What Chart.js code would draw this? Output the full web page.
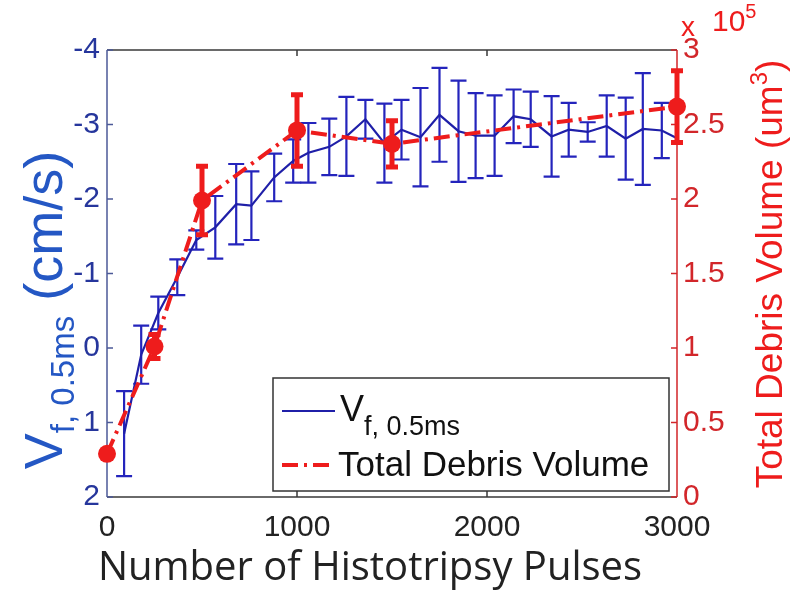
<!DOCTYPE html>
<html>
<head>
<meta charset="utf-8">
<script src="https://cdn.jsdelivr.net/npm/chart.js@4.4.1/dist/chart.umd.min.js"></script>
<style>
  html, body { margin: 0; padding: 0; background: #fff; }
  canvas { display: block; }
</style>
</head>
<body>
<canvas id="c" width="800" height="590"></canvas>
<script>
// --- data ---
const pulseTicks = [0, 1000, 2000, 3000];

// flow velocity V_f,0.5ms (cm/s), left axis (reversed)
const flowPulses = [90, 180, 270, 370, 470, 570, 680, 760, 880, 980, 1060, 1170, 1260, 1360, 1460,
                    1550, 1650, 1750, 1850, 1940, 2040, 2140, 2230, 2340, 2430, 2530, 2630, 2730, 2820, 2920, 3020];
const flowVelocity = [1.15, 0.09, -0.47, -0.95, -1.45, -1.62, -1.93, -1.91, -2.29, -2.51, -2.62, -2.70, -2.84, -3.07, -2.75,
                      -2.93, -2.83, -3.13, -2.91, -2.85, -2.85, -3.11, -3.07, -2.84, -2.93, -2.90, -2.98, -2.81, -2.94, -2.92, -2.79];
const flowError = [0.57, 0.39, 0.22, 0.24, 0.13, 0.42, 0.54, 0.46, 0.32, 0.29, 0.40, 0.38, 0.53, 0.26, 0.53,
                   0.40, 0.66, 0.63, 0.68, 0.57, 0.54, 0.36, 0.37, 0.54, 0.36, 0.13, 0.41, 0.55, 0.75, 0.37, 0];

// total debris volume (um^3), right axis
const debrisPulses = [0, 250, 500, 1000, 1500, 3000];
const debrisVolume = [29000, 101000, 199000, 246000, 237000, 262000];
const debrisError = [0, 8000, 23000, 24000, 15500, 24000];

// --- colours ---
const BLUE = '#1f1fa8';
const BLUE_TICK = '#26369c';
const BLUE_TITLE = '#2457c4';
const RED = '#ee1c1c';
const RED_TICK = '#d2262a';
const DARK = '#222222';
const FONT = '"Liberation Sans", Arial, sans-serif';

// draw a run of text pieces (for sub/superscripts), centred on x,y
function richText(ctx, parts, x, y, angle, color, align) {
  ctx.save();
  ctx.translate(x, y);
  ctx.rotate(angle);
  ctx.fillStyle = color;
  ctx.textBaseline = 'alphabetic';
  ctx.textAlign = 'left';
  let total = 0;
  parts.forEach(p => { ctx.font = p.font; p.w = ctx.measureText(p.text).width; total += p.w; });
  let cx = align === 'left' ? 0 : -total / 2;
  parts.forEach(p => { ctx.font = p.font; ctx.fillText(p.text, cx, p.dy || 0); cx += p.w; });
  ctx.restore();
}

// error bars, drawn just before their own dataset
const errorBars = {
  id: 'errorBars',
  beforeDatasetDraw(chart, args) {
    const ds = chart.data.datasets[args.index];
    if (!ds.errors) return;
    const yScale = chart.scales[ds.yAxisID];
    const ctx = chart.ctx;
    const area = chart.chartArea;
    ctx.save();
    ctx.strokeStyle = ds.errColor;
    ctx.lineWidth = ds.errWidth;
    ctx.lineCap = 'butt';
    ds.data.forEach((p, i) => {
      const e = ds.errors[i];
      if (!e) return;
      const x = args.meta.data[i].x;
      if (x > area.right + 1) return;
      const y1 = yScale.getPixelForValue(p.y - e);
      const y2 = yScale.getPixelForValue(p.y + e);
      const c = ds.capHalf;
      ctx.beginPath();
      ctx.moveTo(x, y1); ctx.lineTo(x, y2);
      ctx.moveTo(x - c, y1); ctx.lineTo(x + c, y1);
      ctx.moveTo(x - c, y2); ctx.lineTo(x + c, y2);
      ctx.stroke();
    });
    ctx.restore();
  }
};

// box, inner ticks, titles and legend
const decorations = {
  id: 'decorations',
  beforeDatasetsDraw(chart) {
    const { ctx, chartArea: a, scales } = chart;
    ctx.save();
    ctx.lineWidth = 1.5;
    // top and bottom
    ctx.strokeStyle = '#3a3a3a';
    ctx.beginPath();
    ctx.moveTo(a.left, a.top); ctx.lineTo(a.right, a.top);
    ctx.moveTo(a.left, a.bottom); ctx.lineTo(a.right, a.bottom);
    ctx.stroke();
    // x ticks inside
    pulseTicks.slice(1, -1).forEach(v => {
      const x = scales.x.getPixelForValue(v);
      ctx.beginPath();
      ctx.moveTo(x, a.bottom); ctx.lineTo(x, a.bottom - 6);
      ctx.moveTo(x, a.top); ctx.lineTo(x, a.top + 6);
      ctx.stroke();
    });
    // left axis
    ctx.strokeStyle = '#4c5a98';
    ctx.beginPath();
    ctx.moveTo(a.left, a.top); ctx.lineTo(a.left, a.bottom);
    scales.yL.ticks.forEach(t => {
      const y = scales.yL.getPixelForValue(t.value);
      ctx.moveTo(a.left, y); ctx.lineTo(a.left + 6, y);
    });
    ctx.stroke();
    // right axis
    ctx.strokeStyle = RED_TICK;
    ctx.beginPath();
    ctx.moveTo(a.right, a.top); ctx.lineTo(a.right, a.bottom);
    scales.yR.ticks.forEach(t => {
      const y = scales.yR.getPixelForValue(t.value);
      ctx.moveTo(a.right, y); ctx.lineTo(a.right - 6, y);
    });
    ctx.stroke();
    ctx.restore();
  },
  afterDraw(chart) {
    const ctx = chart.ctx;

    // x title
    ctx.save();
    ctx.font = '40px "Open Sans", sans-serif';
    ctx.fillStyle = DARK;
    ctx.textAlign = 'center';
    ctx.textBaseline = 'alphabetic';
    ctx.fillText('Number of Histotripsy Pulses', 370, 580);
    ctx.restore();

    // left title
    richText(ctx, [
      { text: 'V', font: '54px ' + FONT },
      { text: 'f, 0.5ms', font: '33px ' + FONT, dy: 12 },
      { text: ' (cm/s)', font: '54px ' + FONT }
    ], 62, 310, -Math.PI / 2, BLUE_TITLE);

    // right title
    richText(ctx, [
      { text: 'Total Debris Volume (um', font: '37px ' + FONT },
      { text: '3', font: '24px ' + FONT, dy: -15 },
      { text: ')', font: '37px ' + FONT }
    ], 782, 274, -Math.PI / 2, RED);

    // exponent
    richText(ctx, [{ text: 'x', font: '28px ' + FONT }], 681, 36, 0, RED, 'left');
    richText(ctx, [
      { text: '10', font: '30px ' + FONT },
      { text: '5', font: '20px ' + FONT, dy: -13 }
    ], 712, 31, 0, RED, 'left');

    // legend
    ctx.save();
    ctx.fillStyle = '#ffffff';
    ctx.strokeStyle = '#333333';
    ctx.lineWidth = 1.5;
    ctx.fillRect(273, 378, 396, 113);
    ctx.strokeRect(273, 378, 396, 113);
    ctx.strokeStyle = BLUE;
    ctx.lineWidth = 2;
    ctx.beginPath();
    ctx.moveTo(282, 411); ctx.lineTo(335, 411);
    ctx.stroke();
    ctx.strokeStyle = RED;
    ctx.lineWidth = 4;
    ctx.setLineDash([16, 6, 3, 6]);
    ctx.beginPath();
    ctx.moveTo(282, 465); ctx.lineTo(335, 465);
    ctx.stroke();
    ctx.restore();
    richText(ctx, [
      { text: 'V', font: '36px ' + FONT },
      { text: 'f, 0.5ms', font: '27px ' + FONT, dy: 14 }
    ], 340, 421, 0, '#111111', 'left');
    richText(ctx, [{ text: 'Total Debris Volume', font: '35px ' + FONT }], 338, 476, 0, '#111111', 'left');
  }
};

const flowPoints = flowPulses.map((x, i) => ({ x, y: flowVelocity[i] }));
const debrisPoints = debrisPulses.map((x, i) => ({ x, y: debrisVolume[i] }));

Chart.defaults.font.family = FONT;

new Chart(document.getElementById('c'), {
  type: 'scatter',
  data: {
    datasets: [
      {
        label: 'Total Debris Volume',
        data: debrisPoints,
        yAxisID: 'yR',
        showLine: true,
        borderColor: RED,
        borderWidth: 4,
        borderDash: [16, 6, 3, 6],
        pointRadius: 9,
        pointBackgroundColor: RED,
        pointBorderColor: RED,
        pointBorderWidth: 0,
        clip: false,
        errors: debrisError,
        errColor: RED,
        errWidth: 5,
        capHalf: 6
      },
      {
        label: 'V f, 0.5ms',
        data: flowPoints,
        yAxisID: 'yL',
        showLine: true,
        borderColor: BLUE,
        borderWidth: 2.2,
        pointRadius: 0,
        clip: 0,
        errors: flowError,
        errColor: '#2424bc',
        errWidth: 2.2,
        capHalf: 8
      }
    ]
  },
  options: {
    responsive: false,
    animation: false,
    devicePixelRatio: 1,
    layout: { padding: { top: 50, left: 0, right: 0, bottom: 0 } },
    plugins: {
      legend: { display: false },
      tooltip: { enabled: false }
    },
    scales: {
      x: {
        type: 'linear',
        min: 0,
        max: 3000,
        afterBuildTicks: s => { s.ticks = pulseTicks.map(v => ({ value: v })); },
        afterFit: s => { s.height = 93; },
        grid: { display: false, drawTicks: false },
        border: { display: false },
        ticks: {
          padding: 13,
          color: DARK,
          font: { size: 30 },
          maxRotation: 0,
          callback: v => String(v)
        }
      },
      yL: {
        type: 'linear',
        position: 'left',
        min: -4,
        max: 2,
        reverse: true,
        afterFit: s => { s.width = 107; },
        grid: { display: false, drawTicks: false },
        border: { display: false },
        ticks: {
          stepSize: 1,
          padding: 7,
          color: BLUE_TICK,
          font: { size: 30 },
          callback: v => String(v)
        }
      },
      yR: {
        type: 'linear',
        position: 'right',
        min: 0,
        max: 300000,
        afterFit: s => { s.width = 123; },
        grid: { display: false, drawTicks: false },
        border: { display: false },
        ticks: {
          stepSize: 50000,
          padding: 6,
          color: RED_TICK,
          font: { size: 30 },
          callback: v => String(v / 100000)
        }
      }
    }
  },
  plugins: [errorBars, decorations]
});
</script>
</body>
</html>
